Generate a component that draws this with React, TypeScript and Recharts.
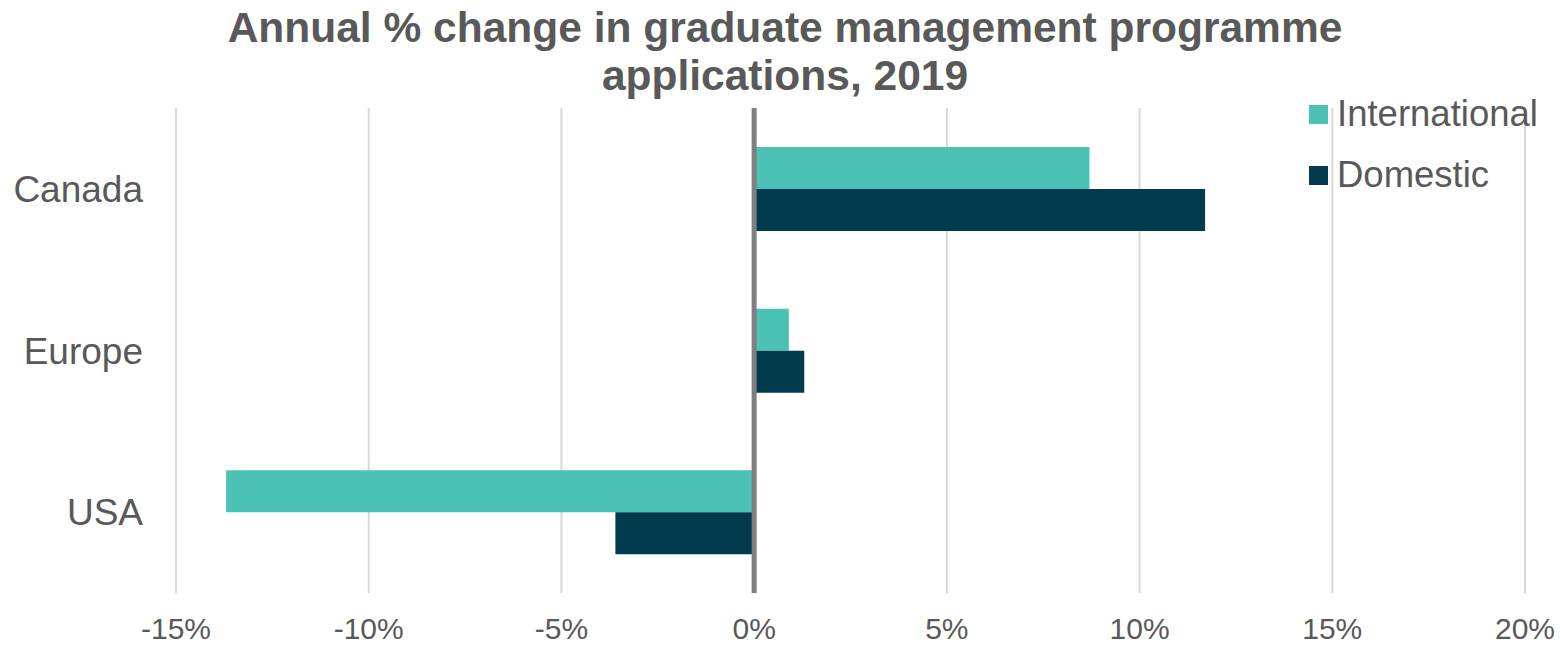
import { BarChart, Bar, XAxis, YAxis, CartesianGrid, ReferenceLine } from 'recharts';

const regions = ['Canada', 'Europe', 'USA'];
const international = [8.7, 0.9, -13.7];
const domestic = [11.7, 1.3, -3.6];
const xTicks = [-15, -10, -5, 0, 5, 10, 15, 20];

const TEXT = '#595959';
const FONT = '"Liberation Sans", Arial, sans-serif';
const TEAL = '#4CC2B6';
const NAVY = '#023B4E';

const data = regions.map((name, i) => ({
    name,
    international: international[i],
    domestic: domestic[i],
}));

const legendItems = [
    { label: 'International', color: TEAL },
    { label: 'Domestic', color: NAVY },
];

function LegendBox() {
    return (
        <div style={{ position: 'absolute', top: 94, left: 1309 }}>
            {legendItems.map((item, i) => (
                <div
                    key={item.label}
                    style={{
                        display: 'flex',
                        alignItems: 'center',
                        height: 40,
                        marginBottom: i === 0 ? 21 : 0,
                    }}
                >
                    <div style={{ width: 19, height: 19, background: item.color, marginRight: 9 }} />
                    <span style={{ fontSize: 36.5, lineHeight: '40px', color: TEXT, whiteSpace: 'nowrap' }}>
                        {item.label}
                    </span>
                </div>
            ))}
        </div>
    );
}

export default function App() {
    return (
        <div
            style={{
                position: 'fixed',
                top: 0,
                left: 0,
                width: 1560,
                height: 646,
                background: '#fff',
                fontFamily: FONT,
            }}
        >
            <div
                style={{
                    position: 'absolute',
                    top: 4,
                    left: 0,
                    width: 1570,
                    textAlign: 'center',
                    fontSize: 42.5,
                    lineHeight: '48px',
                    fontWeight: 'bold',
                    color: TEXT,
                }}
            >
                Annual % change in graduate management programme
                <br />
                applications, 2019
            </div>
            <div style={{ position: 'absolute', top: 0, left: 0 }}>
                <BarChart
                    width={1560}
                    height={646}
                    data={data}
                    layout="vertical"
                    barSize={42}
                    barGap={0}
                    margin={{ top: 108, right: 35, bottom: 0, left: 0 }}
                >
                    <CartesianGrid horizontal={false} stroke="#D9D9D9" strokeWidth={2} />
                    <XAxis
                        type="number"
                        domain={[-15, 20]}
                        ticks={xTicks}
                        interval={0}
                        tickFormatter={(v: number) => `${v}%`}
                        tick={{ fill: TEXT, fontSize: 30, fontFamily: FONT }}
                        axisLine={false}
                        tickLine={false}
                        tickSize={0}
                        tickMargin={25}
                        height={53}
                    />
                    <YAxis
                        type="category"
                        dataKey="name"
                        width={176}
                        tick={{ fill: TEXT, fontSize: 37, fontFamily: FONT }}
                        axisLine={false}
                        tickLine={false}
                        tickSize={0}
                        tickMargin={33}
                    />
                    <Bar dataKey="international" name="International" fill={TEAL} isAnimationActive={false} />
                    <Bar dataKey="domestic" name="Domestic" fill={NAVY} isAnimationActive={false} />
                    <ReferenceLine x={0} stroke="#808080" strokeWidth={5} />
                </BarChart>
            </div>
            <LegendBox />
        </div>
    );
}
